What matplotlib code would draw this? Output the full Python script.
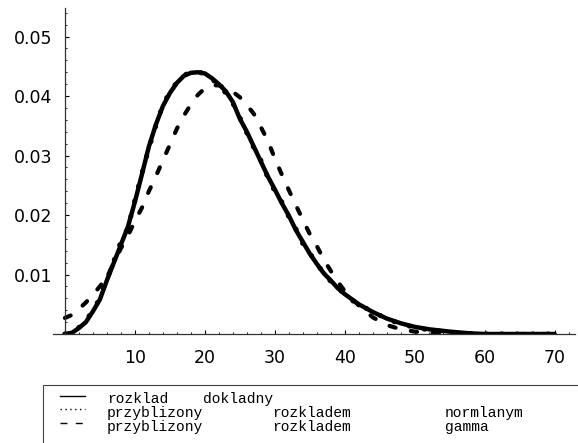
import matplotlib.pyplot as plt
from matplotlib.patches import Rectangle
from matplotlib.lines import Line2D

# values
x = [0, 1, 2, 3, 4, 5, 6, 7, 8, 9, 10, 11, 12, 13, 14, 15, 16, 17, 18, 19,
     20, 21, 22, 23, 24, 25, 26, 27, 28, 29, 30, 31, 32, 33, 34, 35, 36, 37,
     38, 39, 40, 42, 44, 46, 48, 50, 52, 55, 58, 60, 65, 70]

exact = [0.0, 0.0002, 0.0010, 0.0020, 0.0038, 0.0058, 0.0090, 0.0120, 0.0150,
         0.0180, 0.0222, 0.0268, 0.0315, 0.0352, 0.0383, 0.0405, 0.0422,
         0.0434, 0.0439, 0.0440, 0.0438, 0.0430, 0.0420, 0.0408, 0.0390,
         0.0362, 0.0340, 0.0315, 0.0290, 0.0265, 0.0243, 0.0220, 0.0199,
         0.0175, 0.0155, 0.0135, 0.0118, 0.0102, 0.0090, 0.0077, 0.0067,
         0.0050, 0.0037, 0.0026, 0.0018, 0.0012, 0.0008, 0.0004, 0.0001,
         0.0, 0.0, 0.0]

normal = [0.0, 0.0003, 0.0011, 0.0022, 0.0040, 0.0060, 0.0092, 0.0123, 0.0155,
          0.0178, 0.0225, 0.0270, 0.0312, 0.0350, 0.0385, 0.0407, 0.0423,
          0.0435, 0.0440, 0.0441, 0.0437, 0.0429, 0.0418, 0.0405, 0.0388,
          0.0364, 0.0338, 0.0313, 0.0292, 0.0263, 0.0240, 0.0222, 0.0197,
          0.0177, 0.0152, 0.0137, 0.0116, 0.0104, 0.0088, 0.0079, 0.0065,
          0.0049, 0.0038, 0.0025, 0.0017, 0.0011, 0.0007, 0.0003, 0.0001,
          0.0, 0.0, 0.0]

gamma = [0.0027, 0.0032, 0.0042, 0.0053, 0.0066, 0.0080, 0.0096, 0.0120,
         0.0144, 0.0165, 0.0190, 0.0212, 0.0240, 0.0265, 0.0292, 0.0318,
         0.0345, 0.0367, 0.0386, 0.0402, 0.0413, 0.0418, 0.0418, 0.0414,
         0.0407, 0.0398, 0.0385, 0.0370, 0.0348, 0.0325, 0.0295, 0.0268,
         0.0242, 0.0217, 0.0192, 0.0168, 0.0148, 0.0125, 0.0106, 0.0088,
         0.0072, 0.0048, 0.0028, 0.0015, 0.0008, 0.0004, 0.0002, 0.0, 0.0,
         0.0, 0.0, 0.0]

xticks = [10, 20, 30, 40, 50, 60, 70]
yticks = [0.01, 0.02, 0.03, 0.04, 0.05]

legend_words = [
    ['rozklad', 'dokladny'],
    ['przyblizony', 'rozkladem', 'normlanym'],
    ['przyblizony', 'rozkladem', 'gamma'],
]

W, H = 578, 443
fig = plt.figure(figsize=(W / 100, H / 100), dpi=100)
ax = fig.add_axes([53 / W, 1 - 334 / H, 522 / W, 326 / H])

ax.plot(x, exact, color='black', lw=3.2, solid_capstyle='round',
        solid_joinstyle='round')
ax.plot(x, normal, color='black', lw=3.6, linestyle=(0, (0.1, 3.0)),
        dash_capstyle='round')
ax.plot(x, gamma, color='black', lw=3.0, linestyle=(0, (1.5, 3.75)),
        dash_capstyle='round')

ax.set_xlim(-1.7, 72.9)
ax.set_ylim(0, 0.0548)
ax.spines['left'].set_position(('data', 0))
ax.spines['top'].set_visible(False)
ax.spines['right'].set_visible(False)
for s in ['left', 'bottom']:
    ax.spines[s].set_linewidth(0.9)
    ax.spines[s].set_color('#333333')

ax.set_xticks(xticks)
ax.set_yticks(yticks)
ax.set_xticks([v for v in range(2, 73, 2) if v % 10], minor=True)
ax.set_yticks([i * 0.002 for i in range(1, 28) if i % 5], minor=True)
ax.set_yticklabels(['0.01', '0.02', '0.03', '0.04', '0.05'])
ax.tick_params(which='major', direction='in', length=3, width=0.8,
               labelsize=12.5, colors='black')
ax.tick_params(which='minor', direction='in', length=1.5, width=0.6)
ax.tick_params(axis='x', pad=11)
ax.tick_params(axis='y', pad=9)

# legend box below the plot
fig.patches.append(Rectangle((43 / W, -0.05), 1.0, 1 - 385 / H + 0.05,
                             transform=fig.transFigure, fill=False,
                             edgecolor='#444444', lw=0.8))

rows = [396, 409, 423]
baselines = [403, 417, 431]
styles = ['-', (0, (1, 2.5)), (0, (5, 6))]
cols = [107, 272, 445]
cols_first = [107, 203]

for r in range(3):
    fig.lines.append(Line2D([60 / W, 85 / W], [1 - rows[r] / H] * 2,
                            transform=fig.transFigure, color='black',
                            lw=1.0, linestyle=styles[r]))
    xs = cols_first if r == 0 else cols
    for c, word in enumerate(legend_words[r]):
        fig.text(xs[c] / W, 1 - baselines[r] / H, word,
                 family='Liberation Mono', fontsize=10.5,
                 va='baseline', ha='left')

fig.savefig('out.png', dpi=100)
